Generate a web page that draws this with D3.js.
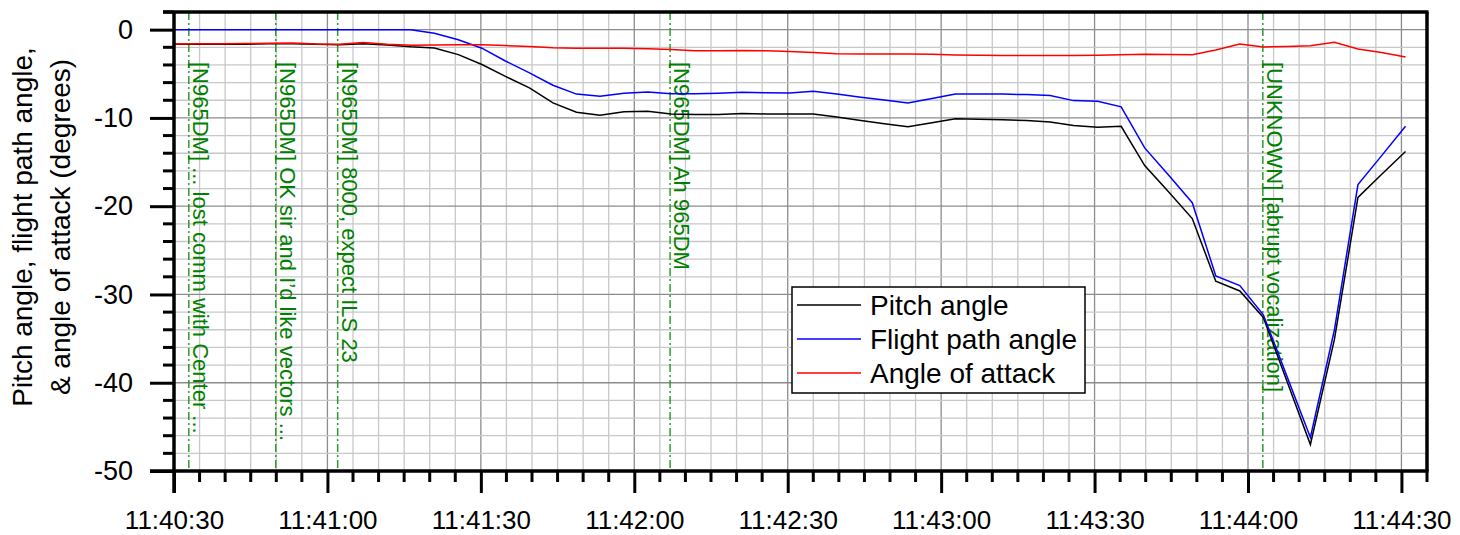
<!DOCTYPE html>
<html><head><meta charset="utf-8">
<script src="https://cdn.jsdelivr.net/npm/d3@7"></script>
<style>html,body{margin:0;padding:0;background:#fff;} svg{display:block;}</style>
</head><body>
<svg id="chart" width="1460" height="535"></svg>
<script>
// seconds after 11:40:30
const times = [0,4.6,9.3,13.9,18.5,23.2,27.8,32.4,37.0,41.7,46.3,50.9,55.6,60.2,64.8,69.5,74.1,78.7,83.3,88.0,92.6,97.2,101.9,106.5,111.1,115.8,120.4,125.0,129.6,134.3,138.9,143.5,148.2,152.8,157.4,162.1,166.7,171.3,175.9,180.6,185.2,189.8,194.5,199.1,203.7,208.4,213.0,217.6,222.2,226.9,231.5,236.1,240.8];
const pitchAngle = [-1.65,-1.65,-1.65,-1.65,-1.6,-1.6,-1.65,-1.7,-1.6,-1.75,-1.95,-2.07,-2.83,-3.95,-5.3,-6.6,-8.3,-9.35,-9.7,-9.3,-9.25,-9.55,-9.6,-9.6,-9.5,-9.55,-9.55,-9.55,-9.9,-10.3,-10.65,-11.0,-10.55,-10.1,-10.15,-10.2,-10.3,-10.46,-10.87,-11.06,-10.95,-15.4,-18.4,-21.4,-28.5,-29.6,-32.6,-39.8,-47.0,-35.1,-19.0,-16.4,-13.8];
const flightPathAngle = [0,0,0,0,0,0,0,0,0,0,0,-0.4,-1.15,-2.1,-3.55,-4.9,-6.3,-7.3,-7.55,-7.2,-7.06,-7.25,-7.25,-7.2,-7.1,-7.15,-7.17,-6.98,-7.3,-7.65,-7.98,-8.3,-7.8,-7.28,-7.28,-7.3,-7.36,-7.47,-8.04,-8.1,-8.75,-13.4,-16.5,-19.6,-27.9,-29.0,-32.3,-39.25,-46.2,-34.0,-17.55,-14.3,-10.95];
const angleOfAttack = [-1.62,-1.6,-1.6,-1.58,-1.55,-1.5,-1.62,-1.66,-1.45,-1.65,-1.78,-1.75,-1.72,-1.72,-1.8,-1.9,-2.05,-2.1,-2.12,-2.1,-2.15,-2.26,-2.38,-2.4,-2.35,-2.4,-2.48,-2.6,-2.74,-2.75,-2.76,-2.76,-2.8,-2.87,-2.9,-2.92,-2.94,-2.94,-2.93,-2.9,-2.85,-2.8,-2.82,-2.83,-2.3,-1.62,-1.96,-1.9,-1.81,-1.44,-2.19,-2.6,-3.1];
const seriesNames = ["Pitch angle","Flight path angle","Angle of attack"];
const seriesColors = ["#000000","#0000ff","#ff0000"];
const xTickValues = [0,30,60,90,120,150,180,210,240];
const xTickLabels = ["11:40:30","11:41:00","11:41:30","11:42:00","11:42:30","11:43:00","11:43:30","11:44:00","11:44:30"];
const yTickValues = [0,-10,-20,-30,-40,-50];
const yTickLabels = ["0","-10","-20","-30","-40","-50"];
const annotationTimes = [2.9,19.9,32.0,97.0,212.9];
const annotationTexts = ["[N965DM] ... lost comm with Center ...","[N965DM] OK sir and I\u2019d like vectors ...","[N965DM] 8000, expect ILS 23","[N965DM] Ah 965DM","[UNKNOWN] [abrupt vocalization]"];

const svg = d3.select("#chart");
const L=174, R=1427, T=12, B=471;
const x = d3.scaleLinear().domain([0,245]).range([L,R]);
const y = d3.scaleLinear().domain([-50,2]).range([B,T]);
const font = "'Liberation Sans', Arial, sans-serif";

// grid
const g = svg.append("g");
const xMinor = d3.range(0,246,5), yMinor = d3.range(-50,2.1,2);
g.selectAll(".vx").data(xMinor).join("line")
  .attr("x1",d=>x(d)).attr("x2",d=>x(d)).attr("y1",T).attr("y2",B)
  .attr("stroke",d=>d%30===0?"#8c8c8c":"#c8c8c8").attr("stroke-width",1.3);
g.selectAll(".hy").data(yMinor).join("line")
  .attr("x1",L).attr("x2",R).attr("y1",d=>y(d)).attr("y2",d=>y(d))
  .attr("stroke",d=>d%10===0?"#8c8c8c":"#c8c8c8").attr("stroke-width",1.3);

// annotations
const ann = svg.append("g");
annotationTimes.forEach((t,i)=>{
  ann.append("line").attr("x1",x(t)).attr("x2",x(t)).attr("y1",T).attr("y2",B)
    .attr("stroke","#2e9a2e").attr("stroke-width",1.5).attr("stroke-dasharray","8,3,2,3");
  ann.append("text").attr("transform",`translate(${x(t)+4},62) rotate(90)`)
    .attr("font-family",font).attr("font-size",22).attr("fill","#008000")
    .text(annotationTexts[i]);
});

// lines
const series = [pitchAngle, flightPathAngle, angleOfAttack];
const line = d3.line().x((d,i)=>x(times[i])).y(d=>y(d));
series.forEach((s,i)=>{
  svg.append("path").datum(s).attr("d",line).attr("fill","none")
    .attr("stroke",seriesColors[i]).attr("stroke-width",1.5);
});

// axes
const xAxis = d3.axisBottom(x).tickValues(xTickValues).tickSize(22).tickSizeOuter(0)
  .tickFormat((d,i)=>xTickLabels[i]).tickPadding(18);
const gx = svg.append("g").attr("transform",`translate(0,${B})`).call(xAxis);
gx.selectAll(".tick line").attr("stroke-width",3);
gx.select(".domain").remove();
gx.selectAll(".minor").data(xMinor.filter(d=>d%30!==0)).join("line")
  .attr("x1",d=>x(d)).attr("x2",d=>x(d)).attr("y1",0).attr("y2",11).attr("stroke","#000").attr("stroke-width",3);
gx.selectAll("text").attr("font-family",font).attr("font-size",26).attr("fill","#000");

const yAxis = d3.axisLeft(y).tickValues(yTickValues).tickSize(24).tickSizeOuter(0).tickPadding(17)
  .tickFormat((d,i)=>yTickLabels[i]);
const gy = svg.append("g").attr("transform",`translate(${L},0)`).call(yAxis);
gy.selectAll(".tick line").attr("stroke-width",3);
gy.select(".domain").remove();
gy.selectAll(".minor").data(yMinor.filter(d=>d%10!==0)).join("line")
  .attr("x1",-11).attr("x2",0).attr("y1",d=>y(d)).attr("y2",d=>y(d)).attr("stroke","#000").attr("stroke-width",3);
gy.selectAll("text").attr("font-family",font).attr("font-size",27).attr("fill","#000");

// frame
svg.append("line").attr("x1",150).attr("x2",R+1.5).attr("y1",B).attr("y2",B).attr("stroke","#000").attr("stroke-width",3.5);
svg.append("line").attr("x1",L).attr("x2",L).attr("y1",T).attr("y2",B+22).attr("stroke","#000").attr("stroke-width",3.5);
svg.append("line").attr("x1",L-11).attr("x2",R+1.5).attr("y1",T).attr("y2",T).attr("stroke","#000").attr("stroke-width",3.5);
svg.append("line").attr("x1",R).attr("x2",R).attr("y1",T).attr("y2",B).attr("stroke","#000").attr("stroke-width",3.5);

// y title
const yt = svg.append("text").attr("font-family",font).attr("font-size",28).attr("fill","#000")
  .attr("text-anchor","middle").attr("transform","translate(0,227) rotate(-90)");
yt.append("tspan").attr("x",0).attr("y",32).text("Pitch angle, flight path angle,");
yt.append("tspan").attr("x",0).attr("y",70).text("& angle of attack (degrees)");

// legend
const lg = svg.append("g");
lg.append("rect").attr("x",792).attr("y",287).attr("width",293).attr("height",106)
  .attr("fill","#fff").attr("stroke","#000").attr("stroke-width",1.5);
seriesNames.forEach((n,i)=>{
  const cy = 305 + i*34;
  lg.append("line").attr("x1",797).attr("x2",861).attr("y1",cy).attr("y2",cy).attr("stroke",seriesColors[i]).attr("stroke-width",1.5);
  lg.append("text").attr("x",870).attr("y",cy+10).attr("font-family",font).attr("font-size",28).attr("fill","#000").text(n);
});
</script>
</body></html>
